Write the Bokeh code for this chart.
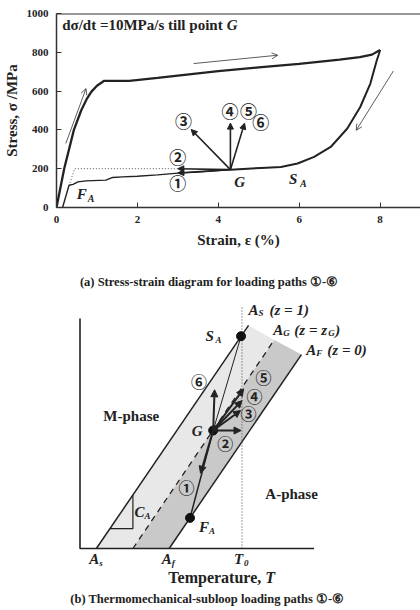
from bokeh.plotting import figure
from bokeh.models import Arrow, NormalHead, OpenHead, Span, FixedTicker, Label
from bokeh.layouts import column
from bokeh.embed import file_html
from bokeh.resources import INLINE
from bokeh.core.properties import value

SERIF = "Liberation Serif"
CJK = "Noto Sans CJK JP"
INK = "#222222"

# ---------------- Panel (a) data ----------------
load_strain = [0.0, 0.19, 0.43, 0.61, 0.75, 0.86, 1.0, 1.18, 1.8, 2.5, 3.0, 4.0, 5.0, 6.0, 7.0, 7.5, 7.8, 8.0]
load_stress = [0, 200, 400, 500, 560, 596, 628, 653, 653, 668, 680, 703, 722, 740, 762, 775, 788, 812]
unload_strain = [8.0, 7.97, 7.92, 7.76, 7.51, 7.19, 6.78, 6.37, 5.96, 5.55, 5.06, 4.3]
unload_stress = [812, 790, 759, 639, 518, 407, 312, 261, 227, 209, 204, 195]
lower_strain = [4.3, 4.0, 3.5, 3.0, 2.5, 2.0, 1.63, 1.39, 1.22, 0.73, 0.53, 0.41, 0.31, 0.15]
lower_stress = [195, 190, 183, 177, 168, 161, 158, 155, 141, 137, 132, 119, 115, 0]
dotted_strain = [3.0, 0.45, 0.31]
dotted_stress = [200, 200, 115]
G_a = (4.3, 195)
path_labels = ["①", "②", "③", "④", "⑤", "⑥"]
path_end_strain = [3.0, 3.0, 3.33, 4.3, 4.65]
path_end_stress = [178, 200, 402, 435, 435]
path_lab_strain = [3.0, 3.0, 3.14, 4.29, 4.75, 5.05]
path_lab_stress = [129, 264, 446, 501, 501, 441]
dir_start_strain = [0.23, 3.39, 8.33]
dir_start_stress = [330, 742, 704]
dir_end_strain = [0.73, 5.47, 7.41]
dir_end_stress = [613, 785, 398]
x_ticks = [0, 2, 4, 6, 8]
y_ticks = [0, 200, 400, 600, 800, 1000]

p1 = figure(width=420, height=270, x_range=(0, 9.0), y_range=(0, 1000),
            output_backend="svg", toolbar_location=None,
            min_border_left=53, min_border_right=0, min_border_top=13, min_border_bottom=63)
p1.grid.visible = False
p1.outline_line_color = None
for ax in (p1.xaxis[0], p1.yaxis[0]):
    ax.axis_line_color = "#333333"
    ax.axis_line_width = 1.5
    ax.major_tick_in = 5
    ax.major_tick_out = 0
    ax.minor_tick_line_color = None
    ax.major_tick_line_color = "#333333"
    ax.major_label_text_font = SERIF
    ax.major_label_text_font_style = "bold"
    ax.major_label_text_font_size = "11px"
    ax.major_label_text_color = INK
    ax.axis_label_text_font = SERIF
    ax.axis_label_text_font_style = "bold"
    ax.axis_label_text_font_size = "15px"
    ax.axis_label_text_color = INK
p1.xaxis[0].ticker = FixedTicker(ticks=x_ticks)
p1.yaxis[0].ticker = FixedTicker(ticks=y_ticks)
p1.xaxis[0].axis_label = "Strain, ε (%)"
p1.yaxis[0].axis_label = "Stress, σ /MPa"
p1.xaxis[0].major_label_standoff = 8
p1.xaxis[0].axis_label_standoff = 6
p1.yaxis[0].major_label_standoff = 8
p1.yaxis[0].axis_label_standoff = 4
p1.add_layout(Span(location=1000, dimension="width", line_color="#333333", line_width=2))

p1.line(load_strain, load_stress, line_color=INK, line_width=2.3)
p1.line(unload_strain, unload_stress, line_color=INK, line_width=2)
p1.line(lower_strain, lower_stress, line_color=INK, line_width=1.4)
p1.line(dotted_strain, dotted_stress, line_color="#555555", line_width=1, line_dash="1 2")

for xe, ye in zip(path_end_strain, path_end_stress):
    p1.add_layout(Arrow(end=NormalHead(size=6, fill_color=INK, line_color=INK),
                        x_start=G_a[0], y_start=G_a[1], x_end=xe, y_end=ye,
                        line_color=INK, line_width=1.6))
for xs, ys, xe, ye in zip(dir_start_strain, dir_start_stress, dir_end_strain, dir_end_stress):
    p1.add_layout(Arrow(end=OpenHead(size=6, line_color="#333333", line_width=0.8),
                        x_start=xs, y_start=ys, x_end=xe, y_end=ye,
                        line_color="#333333", line_width=0.8))

p1.text(path_lab_strain, path_lab_stress, text=path_labels, text_font=value(CJK), text_font_style="bold",
        text_font_size="17px", text_align="center", text_baseline="middle", text_color=INK)
p1.text([0.14], [943], text=["dσ/dt =10MPa/s till point"], text_font=value(SERIF),
        text_font_style="bold", text_font_size="15px", text_baseline="middle", text_color=INK)
p1.text([4.21], [943], text=["G"], text_font=value(SERIF), text_font_style="bold italic",
        text_font_size="15px", text_baseline="middle", text_color=INK)
p1.text([4.53], [132], text=["G"], text_font=value(SERIF), text_font_style="bold italic",
        text_font_size="15px", text_align="center", text_baseline="middle", text_color=INK)
p1.text([5.75, 0.5], [149, 72], text=["S", "F"], text_font=value(SERIF), text_font_style="bold italic",
        text_font_size="15px", text_baseline="middle", text_color=INK)
p1.text([5.75, 0.5], [149, 72], text=["A", "A"], text_font=value(SERIF), text_font_style="bold italic",
        text_font_size="10px", text_baseline="middle", text_color=INK, x_offset=11, y_offset=5)

# ---------------- Panel (b) data ----------------
AS_T = [0.70, 7.20]
AS_S = [0.0, 9.70]
AG_T = [2.26, 8.30]
AG_S = [0.0, 9.07]
AF_T = [3.81, 9.46]
AF_S = [0.0, 8.43]
T0 = 6.92
T0_top = 10.48
axis_T = [0.0, 0.0, 10.0]
axis_S = [10.0, 0.0, 0.0]
SA = (6.88, 9.23)
G = (5.69, 5.13)
FA = (4.70, 1.33)
arrow_end_T = [5.15, 6.88, 6.86, 6.92, 6.99, 5.75]
arrow_end_S = [3.27, 5.13, 6.00, 6.43, 6.94, 6.90]
num_T = [4.55, 6.21, 7.20, 7.46, 7.84, 5.08]
num_S = [2.67, 4.58, 5.88, 6.65, 7.45, 7.30]
tri_T = [1.28, 2.26, 2.26]
tri_S = [0.86, 0.86, 2.33]

p2 = figure(width=420, height=340, x_range=(-1.004, 14.547), y_range=(-2.696, 12.087),
            x_axis_location=None, y_axis_location=None,
            min_border_left=53, min_border_right=0, min_border_top=0, min_border_bottom=0,
            output_backend="svg", toolbar_location=None)
p2.grid.visible = False
p2.outline_line_color = None

bold = dict(text_font=value(SERIF), text_font_style="bold", text_color=INK, text_baseline="middle")
bi = dict(text_font=value(SERIF), text_font_style="bold italic", text_color=INK, text_baseline="middle")

# caption (a)
p2.text([5.52], [11.57], text=["(a) Stress-strain diagram for loading paths ①-⑥"],
        text_font_size="12.5px", text_align="center", **bold)

p2.patch([AS_T[0], AG_T[0], AG_T[1], AS_T[1]], [AS_S[0], AG_S[0], AG_S[1], AS_S[1]],
         fill_color="#e8e8e8", line_color=None)
p2.patch([AG_T[0], AF_T[0], AF_T[1], AG_T[1]], [AG_S[0], AF_S[0], AF_S[1], AG_S[1]],
         fill_color="#c9c9c9", line_color=None)
p2.line(AS_T, AS_S, line_color=INK, line_width=1.5)
p2.line(AF_T, AF_S, line_color=INK, line_width=1.5)
p2.line(AG_T, AG_S, line_color=INK, line_width=1.3, line_dash="6 5")
p2.line([T0, T0], [0, T0_top], line_color="#444444", line_width=1, line_dash="1 2")
p2.line(axis_T, axis_S, line_color=INK, line_width=1.6)
p2.line(tri_T, tri_S, line_color=INK, line_width=1.2)

p2.line([SA[0], G[0]], [SA[1], G[1]], line_color=INK, line_width=1)
p2.line([G[0], FA[0]], [G[1], FA[1]], line_color=INK, line_width=1.5)
for te, se in zip(arrow_end_T, arrow_end_S):
    p2.add_layout(Arrow(end=NormalHead(size=7, fill_color=INK, line_color=INK),
                        x_start=G[0], y_start=G[1], x_end=te, y_end=se,
                        line_color=INK, line_width=2))
p2.scatter([SA[0], G[0], FA[0]], [SA[1], G[1], FA[1]], size=9, fill_color="#111111", line_color="#111111")

p2.text(num_T, num_S, text=path_labels, text_font=value(CJK), text_font_style="bold", text_font_size="16px",
        text_align="center", text_baseline="middle", text_color=INK)

p2.text([2.19, 9.04], [5.78, 2.38], text=["M-phase", "A-phase"], text_font_size="15px",
        text_align="center", **bold)
p2.text([7.70], [-1.25], text=["Temperature, "], text_font_size="16px", text_align="right", x_offset=5, **bold)
p2.text([7.70], [-1.25], text=["T"], text_font_size="16px", text_align="left", x_offset=5, **bi)
p2.text([5.44], [-2.19], text=["(b) Thermomechanical-subloop loading paths ①-⑥"], text_font_size="12.5px",
        text_align="center", **bold)
p2.add_layout(Label(x=-2.40, y=8.17, text="Stress, σ", angle=1.5708, text_align="center",
                    text_baseline="middle", text_font=SERIF, text_font_style="bold",
                    text_font_size="16px", text_color=INK))

# italic letters with subscripts: G, S_A, F_A, C_A, A_s, A_f, T_0
p2.text([5.01], [5.10], text=["G"], text_font_size="15px", text_align="center", **bi)
lab_T = [5.36, 5.08, 2.33, 0.39, 3.49, 6.58]
lab_S = [9.26, 0.93, 1.58, -0.45, -0.45, -0.45]
lab_main = ["S", "F", "C", "A", "A", "T"]
lab_sub = ["A", "A", "A", "s", "f", "0"]
p2.text(lab_T, lab_S, text=lab_main, text_font_size="15px", text_align="left", **bi)
p2.text(lab_T, lab_S, text=lab_sub, text_font_size="9px", text_align="left", x_offset=10, y_offset=4, **bi)

# phase boundary labels
bl_T = [7.20, 8.26, 9.67]
bl_S = [10.39, 9.48, 8.61]
p2.text(bl_T, bl_S, text=["A", "A", "A"], text_font_size="15px", text_align="left", **bi)
p2.text(bl_T, bl_S, text=["S", "G", "F"], text_font_size="9px", text_align="left", x_offset=10, y_offset=3, **bi)
p2.text(bl_T, bl_S, text=["(z = 1)", "(z = z", "(z = 0)"], text_font_size="15px", text_align="left",
        x_offset=21, **bi)
p2.text([bl_T[1]], [bl_S[1]], text=["G"], text_font_size="9px", text_align="left", x_offset=55, y_offset=3, **bi)
p2.text([bl_T[1]], [bl_S[1]], text=[")"], text_font_size="15px", text_align="left", x_offset=62, **bi)

layout = column(p1, p2, spacing=0)
open("out.html", "w").write(file_html(layout, INLINE))
